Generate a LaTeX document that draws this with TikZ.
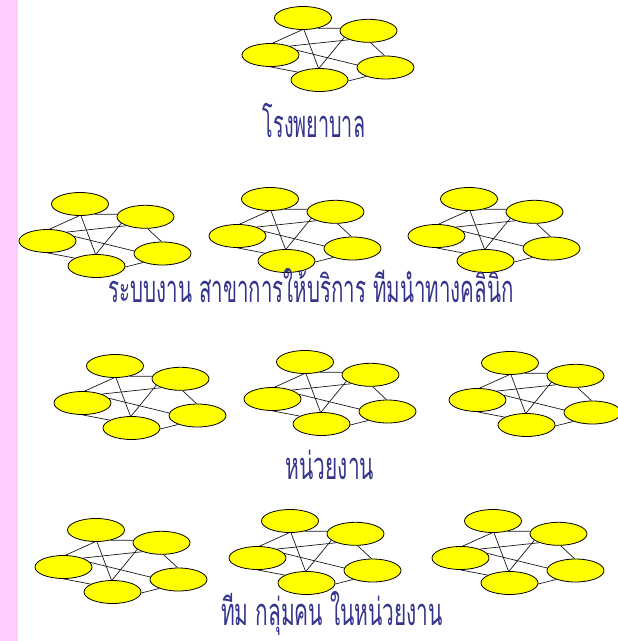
\documentclass[tikz,border=0pt]{standalone}
\usepackage{fontspec}
\usepackage{graphicx}
\newfontfamily\thaifont[Script=Thai]{Loma}
\usetikzlibrary{shapes.geometric}
\definecolor{bandpink}{RGB}{255,204,255}
\definecolor{nodeyellow}{RGB}{255,255,0}
\definecolor{labelblue}{RGB}{52,52,140}
\begin{document}
\begin{tikzpicture}[x=1pt,y=-1pt,
  blob/.style={ellipse,draw=black,line width=0.8pt,fill=nodeyellow,
    minimum width=57pt,minimum height=23pt,inner sep=0pt},
  link/.style={draw=black!90,line width=0.7pt},
  lbl/.style={font=\thaifont\fontsize{38}{40}\selectfont,text=labelblue,
    inner sep=0pt,anchor=base}]
\useasboundingbox (0,0) rectangle (618,641);
\fill[bandpink] (0,0) rectangle (18,641);
\foreach \n/\x/\y in {a/303/18, b1/80/204, b2/270/199, b3/469/199,
    c1/115/366, c2/305/362, c3/510/363,
    d1/96/530, d2/290/521, d3/493/521}{
  \node[blob] (\n-1) at (\x,\y) {};
  \node[blob] (\n-2) at (\x+65.5,\y+12.8) {};
  \node[blob] (\n-3) at (\x-32.5,\y+37) {};
  \node[blob] (\n-4) at (\x+82.5,\y+49.5) {};
  \node[blob] (\n-5) at (\x+16.5,\y+62) {};
  \draw[link] (\n-1.265) -- (\n-3.80);
  \draw[link] (\n-1.275) -- (\n-5.95);
  \draw[link] (\n-2.195) -- (\n-5.92);
  \draw[link] (\n-1.-35) -- (\n-2.175);
  \draw[link] (\n-3.25) -- (\n-2.205);
  \draw[link] (\n-3.10) -- (\n-4.175);
  \draw[link] (\n-2.-80) -- (\n-4.95);
  \draw[link] (\n-3.-90) -- (\n-5.160);
  \draw[link] (\n-5.-2) -- (\n-4.205);
}
\node[lbl] (l1) at (314,137) {\scalebox{0.52}[1]{โรงพยาบาล}};
\node[lbl] (l2) at (311,302) {\scalebox{0.54}[1]{ระบบงาน สาขาการให้บริการ ทีมนำทางคลินิก}};
\node[lbl] (l3) at (330,479) {\scalebox{0.55}[1]{หน่วยงาน}};
\node[lbl] (l4) at (332,625) {\scalebox{0.55}[1]{ทีม กลุ่มคน ในหน่วยงาน}};
\end{tikzpicture}
\end{document}
